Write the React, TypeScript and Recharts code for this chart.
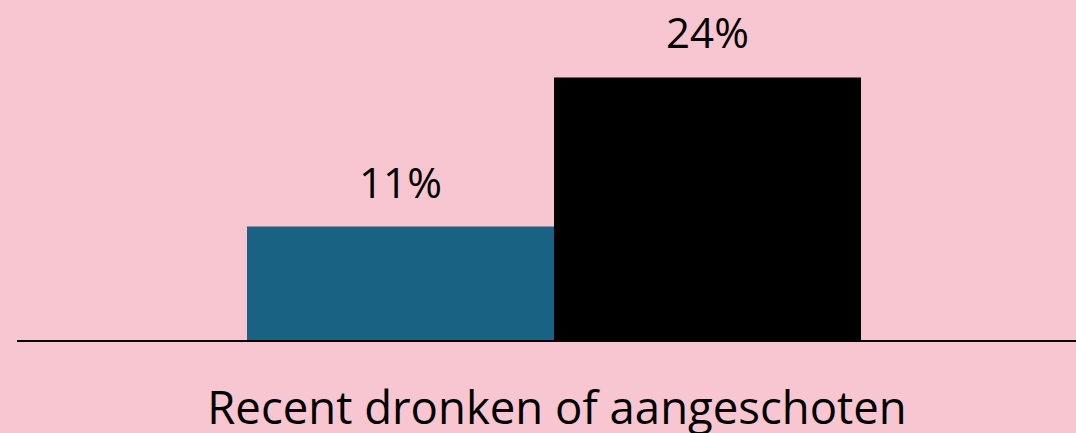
import { BarChart, Bar, XAxis, YAxis, LabelList } from "recharts";

const categories = ["Recent dronken of aangeschoten"];
const seriesA = [10.6];
const seriesB = [24.4];

const data = categories.map((name, i) => ({ name, a: seriesA[i], b: seriesB[i] }));

const FONT = "'Open Sans', sans-serif";

const ValueLabel = (props: any) => {
  const { x, y, width, value } = props;
  return (
    <text
      x={x + width / 2}
      y={y - 29}
      textAnchor="middle"
      fontFamily={FONT}
      fontSize={42}
      fill="#000"
    >
      {Math.round(value)}%
    </text>
  );
};

const CatTick = (props: any) => {
  const { x, y, payload } = props;
  return (
    <text x={x + 3} y={y + 83} textAnchor="middle" fontFamily={FONT} fontSize={45.5} fill="#000">
      {payload.value}
    </text>
  );
};

export default function App() {
  return (
    <div style={{ position: "absolute", left: 0, top: 0, width: 1076, height: 433, background: "#F8C6D0" }}>
      <BarChart
        width={1076}
        height={433}
        data={data}
        margin={{ top: 71, right: 0, bottom: 0, left: 17 }}
        barGap={0}
        barCategoryGap={215}
      >
        <XAxis
          dataKey="name"
          height={92}
          padding={{ left: 15, right: 0 }}
          axisLine={{ stroke: "#000", strokeWidth: 2 }}
          tickLine={false}
          tickSize={0}
          tickMargin={0}
          tick={<CatTick />}
        />
        <YAxis hide domain={[0, 25]} />
        <Bar dataKey="a" fill="#1A6284" isAnimationActive={false}>
          <LabelList dataKey="a" content={<ValueLabel />} />
        </Bar>
        <Bar dataKey="b" fill="#000000" isAnimationActive={false}>
          <LabelList dataKey="b" content={<ValueLabel />} />
        </Bar>
      </BarChart>
    </div>
  );
}
